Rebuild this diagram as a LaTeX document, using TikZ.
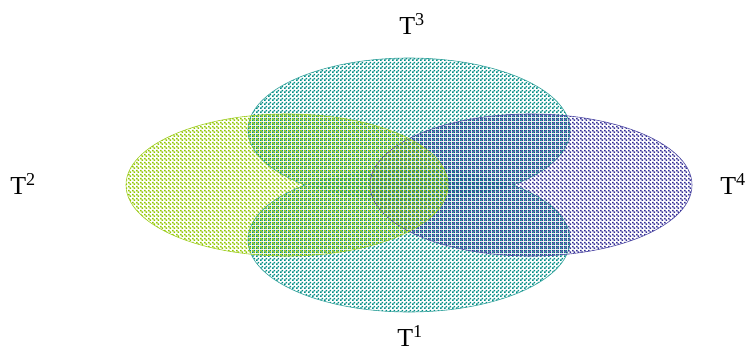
\documentclass[tikz,border=0pt]{standalone}
\usepackage{fontspec}
\setmainfont{Liberation Serif}
\usetikzlibrary{patterns}
\definecolor{tealset}{RGB}{0,140,132}
\definecolor{limeset}{RGB}{145,198,0}
\definecolor{blueset}{RGB}{52,46,150}

% two checkerboards that fill each other's holes
\pgfdeclarepatternformonly{checkA}{\pgfpointorigin}{\pgfqpoint{4bp}{4bp}}{\pgfqpoint{4bp}{4bp}}{%
  \pgfpathrectangle{\pgfpointorigin}{\pgfqpoint{2bp}{2bp}}%
  \pgfpathrectangle{\pgfqpoint{2bp}{2bp}}{\pgfqpoint{2bp}{2bp}}%
  \pgfusepath{fill}}
\pgfdeclarepatternformonly{checkB}{\pgfpointorigin}{\pgfqpoint{4bp}{4bp}}{\pgfqpoint{4bp}{4bp}}{%
  \pgfpathrectangle{\pgfqpoint{2bp}{0bp}}{\pgfqpoint{2bp}{2bp}}%
  \pgfpathrectangle{\pgfqpoint{0bp}{2bp}}{\pgfqpoint{2bp}{2bp}}%
  \pgfusepath{fill}}

\begin{document}
\begin{tikzpicture}[x=1bp,y=-1bp,
    setlabel/.style={font=\fontsize{26}{28}\selectfont, inner sep=0pt},
    setedge/.style={line width=0.6bp}]
    \useasboundingbox (0,0) rectangle (751,352);

    % T3 (upper) and T1 (lower): teal checkerboard
    \fill[pattern=checkA, pattern color=tealset] (409,130) ellipse [x radius=161, y radius=72];
    \fill[pattern=checkA, pattern color=tealset] (409,240) ellipse [x radius=161, y radius=72];
    % outline of T3 outside T1
    \begin{scope}[even odd rule]
        \clip (0,0) rectangle (751,352) (409,240) ellipse [x radius=161, y radius=72];
        \draw[setedge, tealset!80] (409,130) ellipse [x radius=161, y radius=72];
    \end{scope}
    % outline of T1 outside T3
    \begin{scope}[even odd rule]
        \clip (0,0) rectangle (751,352) (409,130) ellipse [x radius=161, y radius=72];
        \draw[setedge, tealset!80] (409,240) ellipse [x radius=161, y radius=72];
    \end{scope}

    % T4: blue checkerboard on the right
    \draw[setedge, blueset!85, pattern=checkB, pattern color=blueset] (531,185) ellipse [x radius=161, y radius=71];

    % T2: yellow-green checkerboard on the left
    \draw[setedge, limeset!85, pattern=checkB, pattern color=limeset] (287,185) ellipse [x radius=161, y radius=71];

    % labels
    \node[setlabel] (t3) at (412,24) {T\textsuperscript{3}};
    \node[setlabel] (t1) at (410,336) {T\textsuperscript{1}};
    \node[setlabel] (t2) at (23,184) {T\textsuperscript{2}};
    \node[setlabel] (t4) at (733,184) {T\textsuperscript{4}};
\end{tikzpicture}
\end{document}
